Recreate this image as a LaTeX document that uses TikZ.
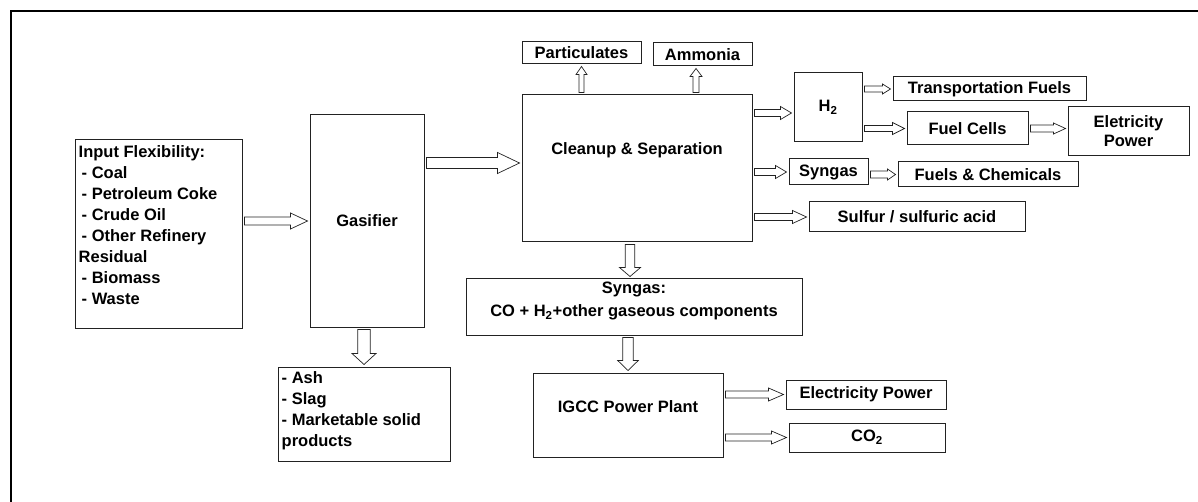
\documentclass[tikz,border=0pt]{standalone}
\usepackage{fontspec}
\setmainfont{Liberation Sans}
\usepackage{tikz}
\usetikzlibrary{calc}
\definecolor{edge}{HTML}{222222}
\newcommand{\agap}{2pt}

\begin{document}
\begin{tikzpicture}[x=1pt,y=-1pt,
  every node/.style={font=\bfseries\fontsize{16.5}{21}\selectfont},
  box/.style={draw=edge,line width=1pt,inner sep=0pt},
  fat/.style n args={3}{draw=edge,fill=white,line width=0.7pt,
    to path={let \p1=(\tikztostart), \p2=(\tikztotarget) in
      ($(\p1)!\agap!(\p2)!#1!90:(\p2)$) -- ($(\p2)!\agap+#3!(\p1)!#1!90:(\p2)$)
      -- ($(\p2)!\agap+#3!(\p1)!#2!90:(\p2)$) -- ($(\p2)!\agap!(\p1)$)
      -- ($(\p2)!\agap+#3!(\p1)!#2!-90:(\p2)$) -- ($(\p2)!\agap+#3!(\p1)!#1!-90:(\p2)$)
      -- ($(\p1)!\agap!(\p2)!#1!-90:(\p2)$) -- cycle}}]
  \useasboundingbox (0,0) rectangle (1198,502);
  % frame
  \draw[line width=2.8pt] (11,502) -- (11,11) -- (1198,11);

  % feed and gasifier
  \node[box,minimum width=167pt,minimum height=188pt] (input) at (158.5,234) {};
  \node[anchor=north west,align=left,inner sep=0pt] (inputtxt) at ($(input.north west)+(4,6)$)
    {Input Flexibility:\\ \hspace*{3pt}- Coal\\ \hspace*{3pt}- Petroleum Coke\\ \hspace*{3pt}- Crude Oil\\
     \hspace*{3pt}- Other Refinery\\ Residual\\ \hspace*{3pt}- Biomass\\ \hspace*{3pt}- Waste};
  \node[box,minimum width=114pt,minimum height=212pt] (gas) at (367,221) {Gasifier};
  \node[box,minimum width=172pt,minimum height=94pt] (ash) at (364,414) {};
  \node[anchor=north west,align=left,inner sep=0pt] (ashtxt) at ($(ash.north west)+(4,5)$)
    {- Ash\\ - Slag\\ - Marketable solid\\ products};

  % cleanup
  \node[box,minimum width=230pt,minimum height=147pt] (clean) at (637,168.5) {};
  \node (cleantxt) at ($(clean.center)+(0,-18)$) {Cleanup \& Separation};
  \node[box,minimum width=119pt,minimum height=22pt] (part) at (581.5,53) {Particulates};
  \node[box,minimum width=99pt,minimum height=23pt] (amm) at (702.5,54.5) {Ammonia};

  % products
  \node[box,minimum width=68pt,minimum height=69pt] (h2) at (828,107.5) {H\textsubscript{2}};
  \node[box,minimum width=79pt,minimum height=26pt] (syn) at (828.5,172) {Syngas};
  \node[box,minimum width=216pt,minimum height=30pt] (sulf) at (917,217) {Sulfur / sulfuric acid};
  \node[box,minimum width=193pt,minimum height=24pt] (trans) at (989.5,89) {Transportation Fuels};
  \node[box,minimum width=121pt,minimum height=33pt] (fuel) at (967.5,128.5) {Fuel Cells};
  \node[box,minimum width=121pt,minimum height=49pt,align=center,
    font=\bfseries\fontsize{16.5}{19}\selectfont] (elec1) at (1128.5,131.5) {Eletricity\\Power};
  \node[box,minimum width=180pt,minimum height=25pt] (chem) at (988,174.5) {Fuels \& Chemicals};

  % power block
  \node[box,minimum width=336pt,minimum height=56pt] (synbig) at (634,307) {};
  \node[align=center,font=\bfseries\fontsize{16.5}{23}\selectfont] (synbigtxt)
    at ($(synbig.center)+(0,-6)$) {Syngas:\\CO + H\textsubscript{2}+other gaseous components};
  \node[box,minimum width=190pt,minimum height=84pt] (igcc) at (628,415) {};
  \node (igcctxt) at ($(igcc.center)+(0,-8)$) {IGCC Power Plant};
  \node[box,minimum width=160pt,minimum height=29pt] (elec2) at (866,394.5) {Electricity Power};
  \node[box,minimum width=156pt,minimum height=29pt] (co2) at (867,437.5) {CO\textsubscript{2}};

  % block arrows
  \draw[fat={4pt}{8pt}{17pt}] (input.east|-gas.west) to (gas.west);
  \draw[fat={5.5pt}{10.5pt}{22pt}] ($(gas.east|-clean.west)+(0,-5.5)$) to ([yshift=5.5pt]clean.west);
  \draw[fat={6.3pt}{12pt}{11pt}] (ash.north|-gas.south) to (ash.north);
  \draw[fat={2.5pt}{5.5pt}{8pt}] (part.south|-clean.north) to (part.south);
  \draw[fat={3pt}{6pt}{8pt}] ($(amm.south|-clean.north)+(-6.5,0)$) to ([xshift=-6.5pt]amm.south);
  \draw[fat={3.5pt}{6.5pt}{11pt}] ($(clean.east|-h2.west)+(0,5.5)$) to ([yshift=-5.5pt]h2.west);
  \draw[fat={3.5pt}{6.5pt}{11pt}] (clean.east|-syn.west) to (syn.west);
  \draw[fat={3.5pt}{6.5pt}{14pt}] (clean.east|-sulf.west) to (sulf.west);
  \draw[fat={3pt}{5pt}{8pt}] (h2.east|-trans.west) to (trans.west);
  \draw[fat={3pt}{6pt}{12pt}] (h2.east|-fuel.west) to (fuel.west);
  \draw[fat={3.5pt}{5.5pt}{12pt}] (fuel.east) to (fuel.east-|elec1.west);
  \draw[fat={3.5pt}{5.5pt}{8pt}] (syn.east|-chem.west) to (chem.west);
  \draw[fat={4.75pt}{10.5pt}{9pt}] ($(clean.south)+(-7,0)$) to ($(clean.south|-synbig.north)+(-7,0)$);
  \draw[fat={5.3pt}{10.3pt}{10pt}] (igcc.north|-synbig.south) to (igcc.north);
  \draw[fat={3.5pt}{6.5pt}{15pt}] (igcc.east|-elec2.west) to (elec2.west);
  \draw[fat={3.5pt}{6.5pt}{15pt}] (igcc.east|-co2.west) to (co2.west);
\end{tikzpicture}
\end{document}
